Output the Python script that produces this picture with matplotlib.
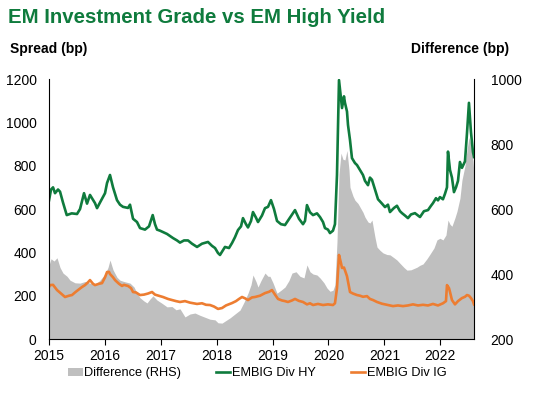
import matplotlib
matplotlib.use("Agg")
import matplotlib.pyplot as plt
from matplotlib.patches import Patch
from matplotlib.lines import Line2D

plt.rcParams["font.family"] = ["Liberation Sans", "DejaVu Sans"]

# EMBIG Div HY spread (bp), time in fractional years
hy_t = [2015.000, 2015.036, 2015.072, 2015.107, 2015.161, 2015.197, 2015.250, 2015.317,
        2015.406, 2015.501, 2015.555, 2015.626, 2015.680, 2015.733, 2015.823, 2015.859,
        2015.912, 2016.002, 2016.038, 2016.091, 2016.145, 2016.216, 2016.270, 2016.324,
        2016.413, 2016.449, 2016.503, 2016.574, 2016.628, 2016.717, 2016.789, 2016.855,
        2016.896, 2016.932, 2016.986, 2017.111, 2017.218, 2017.290, 2017.343, 2017.415,
        2017.487, 2017.558, 2017.648, 2017.737, 2017.844, 2017.916, 2017.970, 2018.023,
        2018.059, 2018.148, 2018.220, 2018.274, 2018.327, 2018.381, 2018.435, 2018.470,
        2018.524, 2018.560, 2018.614, 2018.649, 2018.703, 2018.739, 2018.810, 2018.864,
        2018.918, 2018.971, 2019.025, 2019.079, 2019.150, 2019.222, 2019.311, 2019.401,
        2019.472, 2019.544, 2019.580, 2019.615, 2019.669, 2019.723, 2019.794, 2019.848,
        2019.902, 2019.937, 2019.991, 2020.027, 2020.080, 2020.116, 2020.152, 2020.188,
        2020.224, 2020.242, 2020.277, 2020.295, 2020.331, 2020.349, 2020.385, 2020.420,
        2020.474, 2020.510, 2020.564, 2020.617, 2020.653, 2020.707, 2020.742, 2020.778,
        2020.832, 2020.886, 2020.957, 2021.011, 2021.064, 2021.100, 2021.172, 2021.225,
        2021.279, 2021.315, 2021.368, 2021.422, 2021.476, 2021.547, 2021.601, 2021.637,
        2021.708, 2021.780, 2021.834, 2021.869, 2021.923, 2021.959, 2021.994, 2022.048,
        2022.084, 2022.120, 2022.138, 2022.174, 2022.209, 2022.245, 2022.281, 2022.317,
        2022.352, 2022.388, 2022.442, 2022.478, 2022.513, 2022.549, 2022.585, 2022.603]
hy_v = [640, 690, 700, 673, 690, 680, 630, 572,
        580, 577, 600, 673, 625, 665, 627, 604,
        630, 673, 720, 757, 700, 641, 620, 610,
        605, 620, 555, 540, 512, 505, 520, 572,
        530, 505, 500, 485, 466, 455, 445, 455,
        455, 440, 425, 440, 448, 430, 420, 397,
        388, 425, 420, 443, 470, 503, 520, 558,
        530, 515, 545, 586, 560, 540, 570, 604,
        610, 641, 600, 545, 530, 526, 560, 595,
        555, 530, 545, 618, 585, 572, 580, 563,
        540, 512, 505, 489, 500, 530, 757, 1195,
        1110, 1066, 1120, 1090, 1050, 988, 918, 835,
        812, 803, 780, 757, 730, 710, 745, 735,
        690, 645, 625, 609, 620, 586, 605, 615,
        590, 581, 570, 558, 575, 581, 570, 563,
        590, 595, 615, 627, 650, 640, 655, 645,
        670, 700, 865, 780, 745, 678, 700, 730,
        817, 790, 820, 950, 1090, 955, 863, 840]

# EMBIG Div IG spread (bp)
ig_t = [2015.000, 2015.018, 2015.072, 2015.143, 2015.215, 2015.286, 2015.358, 2015.411,
        2015.465, 2015.519, 2015.590, 2015.644, 2015.698, 2015.733, 2015.787, 2015.823,
        2015.894, 2015.948, 2016.002, 2016.038, 2016.073, 2016.091, 2016.145, 2016.181,
        2016.252, 2016.306, 2016.340, 2016.413, 2016.467, 2016.503, 2016.556, 2016.628,
        2016.699, 2016.771, 2016.843, 2016.896, 2016.986, 2017.039, 2017.129, 2017.200,
        2017.272, 2017.343, 2017.433, 2017.522, 2017.648, 2017.737, 2017.809, 2017.880,
        2017.952, 2018.023, 2018.095, 2018.166, 2018.274, 2018.345, 2018.399, 2018.453,
        2018.506, 2018.560, 2018.631, 2018.685, 2018.775, 2018.864, 2018.936, 2018.989,
        2019.043, 2019.097, 2019.168, 2019.222, 2019.275, 2019.347, 2019.401, 2019.472,
        2019.544, 2019.615, 2019.669, 2019.723, 2019.812, 2019.902, 2019.991, 2020.080,
        2020.116, 2020.152, 2020.188, 2020.224, 2020.242, 2020.277, 2020.295, 2020.331,
        2020.385, 2020.438, 2020.510, 2020.564, 2020.617, 2020.689, 2020.742, 2020.796,
        2020.868, 2020.957, 2021.064, 2021.154, 2021.243, 2021.333, 2021.422, 2021.512,
        2021.601, 2021.691, 2021.780, 2021.869, 2021.959, 2022.048, 2022.102, 2022.120,
        2022.156, 2022.174, 2022.209, 2022.263, 2022.317, 2022.388, 2022.442, 2022.478,
        2022.513, 2022.549, 2022.585, 2022.603]
ig_v = [240, 249, 250, 226, 210, 194, 200, 203,
        215, 226, 240, 249, 262, 272, 255, 249,
        255, 258, 285, 309, 310, 300, 285, 272,
        255, 245, 250, 245, 235, 217, 215, 203,
        205, 210, 217, 205, 198, 194, 185, 180,
        175, 171, 175, 168, 162, 165, 158, 157,
        150, 139, 143, 155, 166, 175, 185, 194,
        188, 180, 192, 194, 200, 212, 218, 226,
        205, 185, 178, 175, 171, 178, 185, 176,
        171, 160, 165, 157, 162, 157, 160, 157,
        165, 235, 388, 350, 328, 330, 317, 290,
        217, 210, 203, 200, 195, 198, 185, 180,
        171, 163, 157, 152, 155, 152, 155, 160,
        155, 158, 155, 162, 155, 165, 175, 249,
        235, 217, 180, 160, 175, 189, 195, 203,
        200, 189, 175, 160]

# Difference HY - IG (bp, right-hand scale)
diff_t = [2015.000, 2015.036, 2015.089, 2015.143, 2015.197, 2015.250, 2015.322, 2015.376,
          2015.465, 2015.555, 2015.644, 2015.733, 2015.823, 2015.912, 2016.002, 2016.055,
          2016.091, 2016.145, 2016.216, 2016.270, 2016.340, 2016.449, 2016.521, 2016.574,
          2016.628, 2016.699, 2016.753, 2016.807, 2016.860, 2016.932, 2017.021, 2017.111,
          2017.200, 2017.272, 2017.343, 2017.433, 2017.522, 2017.612, 2017.701, 2017.791,
          2017.880, 2017.970, 2018.023, 2018.095, 2018.166, 2018.238, 2018.327, 2018.417,
          2018.488, 2018.560, 2018.614, 2018.649, 2018.703, 2018.739, 2018.793, 2018.864,
          2018.918, 2018.953, 2019.007, 2019.079, 2019.150, 2019.222, 2019.293, 2019.347,
          2019.419, 2019.490, 2019.562, 2019.615, 2019.669, 2019.723, 2019.794, 2019.848,
          2019.919, 2019.973, 2020.027, 2020.080, 2020.116, 2020.152, 2020.188, 2020.224,
          2020.259, 2020.295, 2020.331, 2020.367, 2020.385, 2020.438, 2020.474, 2020.528,
          2020.564, 2020.617, 2020.653, 2020.707, 2020.742, 2020.778, 2020.832, 2020.868,
          2020.921, 2020.975, 2021.046, 2021.100, 2021.172, 2021.225, 2021.279, 2021.351,
          2021.404, 2021.476, 2021.530, 2021.583, 2021.637, 2021.691, 2021.762, 2021.816,
          2021.887, 2021.941, 2021.994, 2022.048, 2022.102, 2022.138, 2022.174, 2022.209,
          2022.263, 2022.299, 2022.352, 2022.388, 2022.442, 2022.478, 2022.513, 2022.549,
          2022.585, 2022.603]
diff_v = [427, 447, 440, 450, 420, 403, 393, 381,
          373, 372, 377, 372, 367, 381, 400, 420,
          443, 413, 390, 381, 377, 372, 360, 341,
          327, 317, 311, 323, 333, 320, 310, 299,
          300, 290, 293, 268, 277, 280, 273, 267,
          261, 259, 250, 249, 257, 265, 277, 289,
          313, 341, 367, 397, 377, 360, 380, 403,
          393, 393, 373, 341, 350, 360, 380, 403,
          407, 393, 388, 428, 407, 400, 397, 388,
          373, 357, 347, 350, 367, 499, 707, 772,
          753, 751, 780, 720, 667, 640, 627, 617,
          606, 590, 575, 560, 557, 566, 513, 483,
          473, 465, 460, 459, 450, 443, 433, 420,
          412, 413, 417, 421, 427, 431, 447, 461,
          480, 505, 510, 505, 520, 566, 553, 547,
          573, 593, 633, 689, 733, 781, 820, 800,
          747, 711]

years = list(range(2015, 2023))

green = "#0F7B3D"
orange = "#ED7D31"
grey = "#BFBFBF"

fig = plt.figure(figsize=(5.34, 3.97), dpi=100)
ax = fig.add_axes([0.0918, 0.146, 0.7958, 0.655])
ax2 = ax.twinx()

# grey area sits on the right-hand axis, behind the two spread lines
ax2.fill_between(diff_t, 200, diff_v, color=grey, linewidth=0)
ax2.set_ylim(200, 1000)
ax2.set_yticks([200, 400, 600, 800, 1000])

ax.set_zorder(ax2.get_zorder() + 1)
ax.patch.set_visible(False)
ax.plot(hy_t, hy_v, color=green, linewidth=1.9)
ax.plot(ig_t, ig_v, color=orange, linewidth=1.9)
ax.set_ylim(0, 1200)
ax.set_yticks(range(0, 1201, 200))
ax.set_xlim(2015.0, 2022.603)
ax.set_xticks(years)
ax.set_xticklabels([str(y) for y in years])

ax.spines["top"].set_visible(False)
ax.spines["right"].set_visible(False)
ax2.spines["top"].set_visible(False)
ax2.spines["left"].set_visible(False)
ax2.spines["bottom"].set_visible(False)
ax.spines["left"].set_color("black")
ax.spines["bottom"].set_color("black")
ax2.spines["right"].set_color("black")

ax.tick_params(axis="y", length=0, labelsize=10, pad=9)
ax2.tick_params(axis="y", length=0, labelsize=10, pad=12)
ax.tick_params(axis="x", length=4, direction="out", labelsize=10, pad=3)

fig.text(0.015, 0.955, "EM Investment Grade vs EM High Yield", color=green,
         fontsize=14.7, fontweight="bold", va="center", ha="left")
fig.text(0.018, 0.876, "Spread (bp)", fontsize=10, fontweight="bold", va="center")
fig.text(0.953, 0.876, "Difference (bp)", fontsize=10, fontweight="bold",
         va="center", ha="right")

handles = [Patch(facecolor=grey, edgecolor="none"),
           Line2D([], [], color=green, linewidth=1.9),
           Line2D([], [], color=orange, linewidth=1.9)]
labels = ["Difference (RHS)", "EMBIG Div HY", "EMBIG Div IG"]
fig.legend(handles, labels, loc="center", bbox_to_anchor=(0.482, 0.060), ncol=3,
           frameon=False, fontsize=9.2, handlelength=1.12, handleheight=0.6,
           handletextpad=0.15, columnspacing=2.7)

fig.savefig("out.png", dpi=100)
